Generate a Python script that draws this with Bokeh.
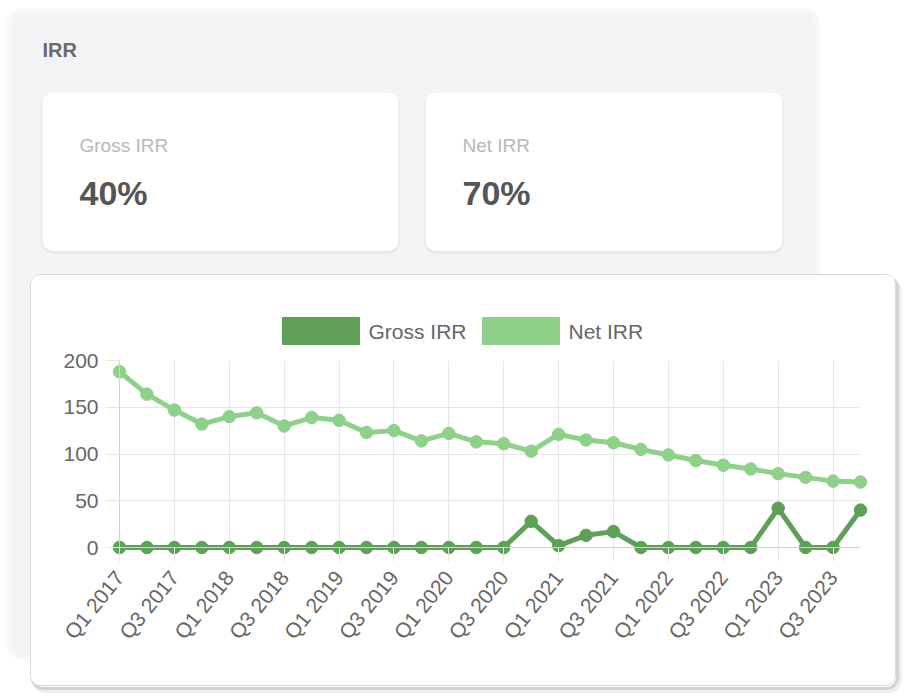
import math
from bokeh.plotting import figure
from bokeh.models import (FixedTicker, Range1d, ColumnDataSource)
from bokeh.core.properties import value
from bokeh.embed import file_html
from bokeh.resources import INLINE

# ---------------- data ----------------
quarters = ["Q1 2017", "Q2 2017", "Q3 2017", "Q4 2017",
            "Q1 2018", "Q2 2018", "Q3 2018", "Q4 2018",
            "Q1 2019", "Q2 2019", "Q3 2019", "Q4 2019",
            "Q1 2020", "Q2 2020", "Q3 2020", "Q4 2020",
            "Q1 2021", "Q2 2021", "Q3 2021", "Q4 2021",
            "Q1 2022", "Q2 2022", "Q3 2022", "Q4 2022",
            "Q1 2023", "Q2 2023", "Q3 2023", "Q4 2023"]
gross_irr = [0, 0, 0, 0, 0, 0, 0, 0, 0, 0, 0, 0, 0, 0,
             0, 28, 2, 13, 17, 0, 0, 0, 0, 0, 42, 0, 0, 40]
net_irr = [188, 164, 147, 132, 140, 144, 130, 139, 136, 123, 125, 114, 122, 113,
           111, 103, 121, 115, 112, 105, 99, 93, 88, 84, 79, 75, 71, 70]
y_ticks = [0, 50, 100, 150, 200]
series_names = ["Gross IRR", "Net IRR"]
card_titles = ["Gross IRR", "Net IRR"]
card_values = ["40%", "70%"]
section_title = "IRR"

GROSS = "#5f9f5a"
NET = "#8fd08a"
FONT = "Liberation Sans"

# frame placement in the window (pixels)
FL, FR, FT, FB = 119, 860, 360, 547
W, H = 905, 697

idx = list(range(len(quarters)))
src = ColumnDataSource(dict(x=idx, gross=gross_irr, net=net_irr))

p = figure(width=W, height=H, output_backend="svg", toolbar_location=None,
           x_range=Range1d(0, len(quarters) - 1), y_range=Range1d(y_ticks[0], y_ticks[-1]),
           min_border_left=FL, min_border_right=W - FR, min_border_top=FT,
           min_border_bottom=H - FB)
p.outline_line_color = None
p.background_fill_color = "white"
p.border_fill_color = "white"
# pixel ranges for the page decoration (canvas pixels, y downwards)
p.extra_x_ranges = {"px": Range1d(FL, FR)}
p.extra_y_ranges = {"py": Range1d(FB, FT)}

# grids
p.xgrid.ticker = FixedTicker(ticks=idx[::2])
p.ygrid.ticker = FixedTicker(ticks=y_ticks)
p.xgrid.grid_line_color = "#e6e6e6"
p.ygrid.grid_line_color = "#e6e6e6"

# axes
p.xaxis.ticker = FixedTicker(ticks=idx[::2])
p.xaxis.major_label_overrides = {i: quarters[i] for i in idx[::2]}
p.xaxis.major_label_orientation = math.radians(51)
p.yaxis.ticker = FixedTicker(ticks=y_ticks)
for ax in (p.xaxis[0], p.yaxis[0]):
    ax.level = "overlay"
    ax.axis_line_color = "#d2d2d2"
    ax.major_tick_line_color = "#e6e6e6"
    ax.major_tick_out = 14
    ax.major_tick_in = 0
    ax.minor_tick_line_color = None
    ax.major_label_text_color = "#666666"
    ax.major_label_text_font = FONT
p.xaxis.major_label_text_font_size = "21px"
p.xaxis.major_label_standoff = 12
p.yaxis.major_label_text_font_size = "21px"
p.yaxis.major_label_standoff = 7

# ---------------- page decoration (glyphs in pixel ranges) ----------------
def rrect(l, r, t, b, rad):
    tl, tr, br, bl = rad
    xs, ys = [], []
    def arc(cx, cy, rr, a0, a1):
        n = 8
        for k in range(n + 1):
            a = a0 + (a1 - a0) * k / n
            xs.append(cx + rr * math.cos(a))
            ys.append(cy + rr * math.sin(a))
    arc(l + tl, t + tl, tl, math.pi, 1.5 * math.pi)
    arc(r - tr, t + tr, tr, 1.5 * math.pi, 2 * math.pi)
    arc(r - br, b - br, br, 0, 0.5 * math.pi)
    arc(l + bl, b - bl, bl, 0.5 * math.pi, math.pi)
    return xs, ys

def shape(l, r, t, b, rad, fill=None, line=None, lw=1, alpha=1.0, level="annotation"):
    xs, ys = rrect(l, r, t, b, rad)
    p.patch(xs, ys, x_range_name="px", y_range_name="py",
            fill_color=fill if fill else "white", fill_alpha=alpha if fill else 0,
            line_color=line, line_width=lw, line_alpha=alpha if line else 0,
            level=level)

BG = "#f3f4f6"
# soft (blurred) edges of the background card pieces
shape(8, 817, 10, 302, (14, 14, 0, 0), line="#f7f7f8", lw=4)
shape(8, 62, 10, 657, (14, 0, 0, 14), line="#f7f7f8", lw=4)
# grey background card, split so that it never covers the chart frame
shape(10, 815, 12, 300, (12, 12, 0, 0), fill=BG)
shape(10, 60, 12, 655, (12, 0, 0, 12), fill=BG)
# inner white cards (blurred)
for l, r in ((42, 398), (425, 782)):
    shape(l, r, 93, 252, (11, 11, 11, 11), line="#e9eaed", lw=3)
    shape(l, r, 92, 250, (10, 10, 10, 10), fill="white")

# chart card shadow (outlines only, hidden inside the card by the strips below)
shape(33, 899, 279, 690, (12, 12, 12, 12), line="#ededed", lw=5)
shape(32, 897, 277, 688, (11, 11, 11, 11), line="#d2d2d2", lw=3)
# chart card white body around the frame
shape(30, 895, 274, FT - 1, (10, 10, 0, 0), fill="white")
shape(30, 895, FB + 1, 685, (0, 0, 10, 10), fill="white")
shape(30, FL - 1, 274, 685, (10, 0, 0, 10), fill="white")
shape(FR + 1, 895, 274, 685, (0, 10, 10, 0), fill="white")
# chart card outline
shape(30, 895, 274, 685, (10, 10, 10, 10), line="#d9d9d9", lw=1)

# blurred header texts
p.text(x=[42], y=[38], text=[section_title], x_range_name="px", y_range_name="py",
       text_font=value(FONT), text_font_size="20px", text_font_style="bold",
       text_color="#6a6a6a", text_baseline="top", level="annotation")
p.text(x=[79, 462], y=[134, 134], text=card_titles, x_range_name="px", y_range_name="py",
       text_font=value(FONT), text_font_size="19px", text_color="#b6b8bc",
       text_baseline="top", level="annotation")
p.text(x=[79, 462], y=[173, 173], text=card_values, x_range_name="px", y_range_name="py",
       text_font=value(FONT), text_font_size="34px", text_font_style="bold",
       text_color="#555555", text_baseline="top", level="annotation")

# ---------------- legend (swatch + label per series, chart.js style) ----------------
leg_colors = [GROSS, NET]
leg_left = [282, 482]          # swatch left edges (px)
SW, SH, LT = 77, 27, 317       # swatch size and top (px)
for name, col, lx in zip(series_names, leg_colors, leg_left):
    shape(lx, lx + SW, LT, LT + SH, (0, 0, 0, 0), fill=col, line=col, lw=1, level="overlay")
p.text(x=[lx + SW + 9 for lx in leg_left], y=[LT + SH / 2] * 2, text=series_names,
       x_range_name="px", y_range_name="py", text_font=value(FONT),
       text_font_size="21px", text_color="#666666", text_baseline="middle",
       level="overlay")

# ---------------- series ----------------
p.line("x", "net", source=src, line_width=5, line_color=NET, level="overlay")
p.scatter("x", "net", source=src, size=12.5, fill_color=NET, line_color=NET, level="overlay")
p.line("x", "gross", source=src, line_width=5, line_color=GROSS, level="overlay")
p.scatter("x", "gross", source=src, size=12.5, fill_color=GROSS, line_color=GROSS, level="overlay")

open("out.html", "w").write(file_html(p, INLINE))
